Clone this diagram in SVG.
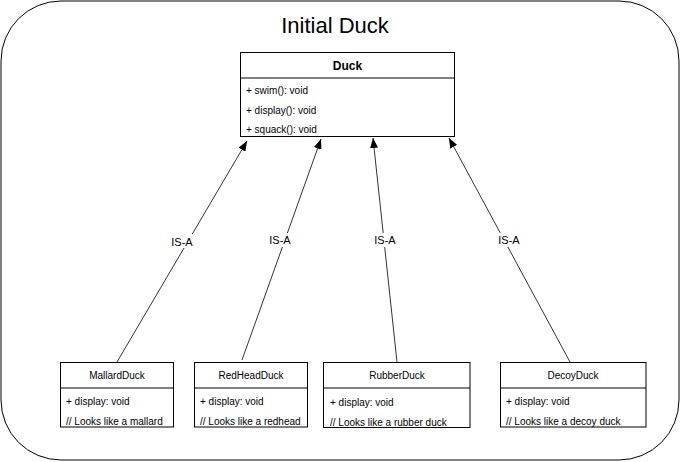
<svg xmlns="http://www.w3.org/2000/svg" width="681" height="462" viewBox="0 0 681 462">
<style>
text{font-family:"Liberation Sans",Arial,sans-serif;fill:#000}
.box{fill:#fff;stroke:#000;stroke-width:1}
.sep{stroke:#000;stroke-width:1}
.row{font-size:10px}
.hdr{font-size:10px;text-anchor:middle}
.lbl{font-size:11px;text-anchor:middle}
.edge{stroke:#333;stroke-width:1;fill:none}
.lblbg{fill:#fff}
</style>
<defs>
<marker id="arr" markerUnits="userSpaceOnUse" markerWidth="10" markerHeight="8" refX="10" refY="4" orient="auto">
<path d="M0,0 L10,4 L0,8 z" fill="#000"/>
</marker>
</defs>
<rect x="1" y="1" width="678" height="459" rx="60" ry="60" fill="#fff" stroke="#000" stroke-width="1"/>
<text x="335" y="33" font-size="22" text-anchor="middle">Initial Duck</text>

<g id="connectors">
<line class="edge" x1="117" y1="362" x2="247" y2="141" marker-end="url(#arr)"/>
<line class="edge" x1="242" y1="360" x2="321" y2="139" marker-end="url(#arr)"/>
<line class="edge" x1="397" y1="362" x2="373" y2="138" marker-end="url(#arr)"/>
<line class="edge" x1="570" y1="362" x2="449" y2="138" marker-end="url(#arr)"/>
<rect class="lblbg" x="170" y="234" width="24" height="14"/>
<text class="lbl" x="182" y="245.5">IS-A</text>
<rect class="lblbg" x="268" y="233" width="24" height="14"/>
<text class="lbl" x="280" y="244">IS-A</text>
<rect class="lblbg" x="373" y="233" width="24" height="14"/>
<text class="lbl" x="385" y="244">IS-A</text>
<rect class="lblbg" x="497" y="233" width="24" height="14"/>
<text class="lbl" x="509" y="244">IS-A</text>
</g>

<g id="duck">
<rect class="box" x="240.5" y="52.5" width="214" height="84"/>
<line class="sep" x1="240.5" y1="78" x2="454.5" y2="78"/>
<text x="347.5" y="70" font-size="12" font-weight="bold" text-anchor="middle">Duck</text>
<text class="row" x="246" y="93.5">+ swim(): void</text>
<text class="row" x="246" y="113.5">+ display(): void</text>
<text class="row" x="246" y="133">+ squack(): void</text>
</g>

<g id="mallard">
<rect class="box" x="60.5" y="362.5" width="113" height="64.5"/>
<line class="sep" x1="60.5" y1="388" x2="173.5" y2="388"/>
<text class="hdr" x="117" y="379">MallardDuck</text>
<text class="row" x="66" y="405">+ display: void</text>
<text class="row" x="66" y="424.5">// Looks like a mallard</text>
</g>

<g id="redhead">
<rect class="box" x="194.5" y="362.5" width="113" height="64.5"/>
<line class="sep" x1="194.5" y1="388" x2="307.5" y2="388"/>
<text class="hdr" x="251" y="379">RedHeadDuck</text>
<text class="row" x="200" y="405">+ display: void</text>
<text class="row" x="200" y="424.5">// Looks like a redhead</text>
</g>

<g id="rubber">
<rect class="box" x="323.5" y="362.5" width="146.5" height="65"/>
<line class="sep" x1="323.5" y1="388" x2="470" y2="388"/>
<text class="hdr" x="397" y="379">RubberDuck</text>
<text class="row" x="330" y="406">+ display: void</text>
<text class="row" x="330" y="425.5">// Looks like a rubber duck</text>
</g>

<g id="decoy">
<rect class="box" x="500.5" y="362.5" width="145.5" height="64.5"/>
<line class="sep" x1="500.5" y1="388" x2="646" y2="388"/>
<text class="hdr" x="573" y="379">DecoyDuck</text>
<text class="row" x="506" y="405">+ display: void</text>
<text class="row" x="506" y="424.5">// Looks like a decoy duck</text>
</g>
</svg>
